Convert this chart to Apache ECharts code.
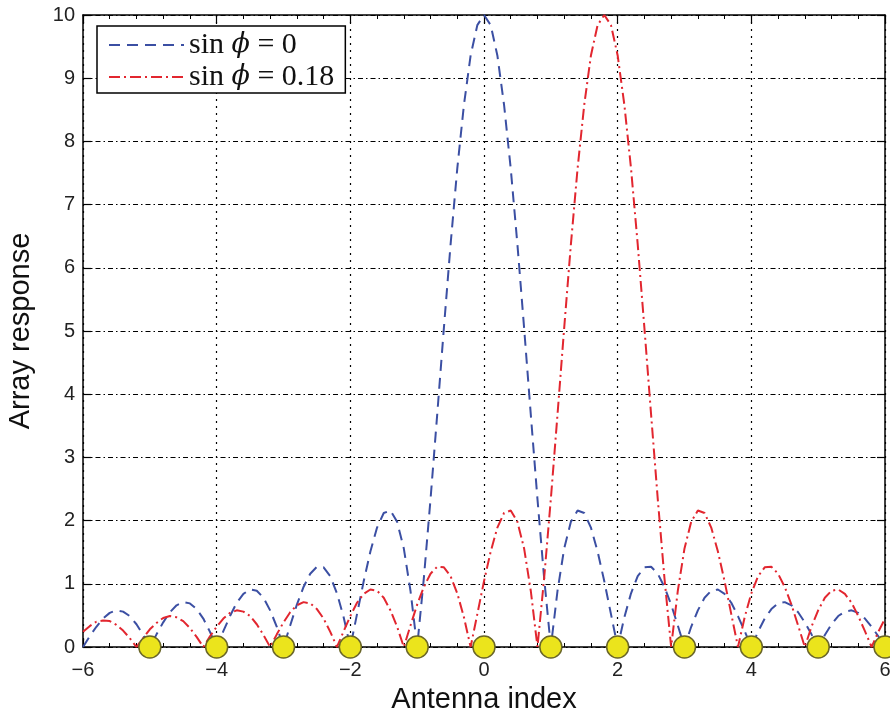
<!DOCTYPE html>
<html>
<head>
<meta charset="utf-8">
<script src="https://cdn.jsdelivr.net/npm/echarts@6/dist/echarts.min.js"></script>
<style>
html,body{margin:0;padding:0;background:#fff;}
#chart{width:890px;height:718px;}
</style>
</head>
<body>
<div id="chart"></div>
<script>
// Sample positions along the antenna-index axis
const antennaIdx = [
  -6,-5.9,-5.8,-5.7,-5.6,-5.5,-5.4,-5.3,-5.2,-5.1,
  -5,-4.9,-4.8,-4.7,-4.6,-4.5,-4.4,-4.3,-4.2,-4.1,
  -4,-3.9,-3.8,-3.7,-3.6,-3.5,-3.4,-3.3,-3.2,-3.1,
  -3,-2.9,-2.8,-2.7,-2.6,-2.5,-2.4,-2.3,-2.2,-2.1,
  -2,-1.9,-1.8,-1.7,-1.6,-1.5,-1.4,-1.3,-1.2,-1.1,
  -1,-0.9,-0.8,-0.7,-0.6,-0.5,-0.4,-0.3,-0.2,-0.1,
  0,0.1,0.2,0.3,0.4,0.5,0.6,0.7,0.8,0.9,
  1,1.1,1.2,1.3,1.4,1.5,1.6,1.7,1.8,1.9,
  2,2.1,2.2,2.3,2.4,2.5,2.6,2.7,2.8,2.9,
  3,3.1,3.2,3.3,3.4,3.5,3.6,3.7,3.8,3.9,
  4,4.1,4.2,4.3,4.4,4.5,4.6,4.7,4.8,4.9,
  5,5.1,5.2,5.3,5.4,5.5,5.6,5.7,5.8,5.9,
  6
];
// Array response, sin(phi) = 0 (blue dashed)
const respSin0 = [
  0,.17,.32,.45,.54,.58,.56,.49,.36,.19,
  0,.20,.39,.55,.66,.71,.69,.60,.45,.24,
  0,.25,.49,.70,.84,.91,.89,.78,.58,.32,
  0,.34,.67,.95,1.16,1.27,1.26,1.12,.85,.47,
  0,.52,1.04,1.51,1.89,2.12,2.16,1.98,1.56,.89,
  0,1.09,2.34,3.68,5.05,6.37,7.57,8.58,9.36,9.84,
  10,9.84,9.36,8.58,7.57,6.37,5.05,3.68,2.34,1.09,
  0,.89,1.56,1.98,2.16,2.12,1.89,1.51,1.04,.52,
  0,.47,.85,1.12,1.26,1.27,1.16,.95,.67,.34,
  0,.32,.58,.78,.89,.91,.84,.70,.49,.25,
  0,.24,.45,.60,.69,.71,.66,.55,.39,.20,
  0,.19,.36,.49,.56,.58,.54,.45,.32,.17,
  0
];
// Array response, sin(phi) = 0.18 (red dash-dot)
const respSin018 = [
  .24,.33,.40,.42,.41,.35,.26,.14,0,.14,
  .28,.38,.46,.49,.47,.41,.30,.16,0,.17,
  .32,.45,.54,.58,.56,.49,.36,.19,0,.20,
  .39,.55,.66,.71,.69,.60,.45,.24,0,.25,
  .49,.70,.84,.91,.89,.78,.58,.32,0,.34,
  .67,.95,1.16,1.27,1.26,1.12,.85,.47,0,.52,
  1.04,1.51,1.89,2.12,2.16,1.98,1.56,.89,0,1.09,
  2.34,3.68,5.05,6.37,7.57,8.58,9.36,9.84,10,9.84,
  9.36,8.58,7.57,6.37,5.05,3.68,2.34,1.09,0,.89,
  1.56,1.98,2.16,2.12,1.89,1.51,1.04,.52,0,.47,
  .85,1.12,1.26,1.27,1.16,.95,.67,.34,0,.32,
  .58,.78,.89,.91,.84,.70,.49,.25,0,.24,
  .45
];
// Antenna positions (yellow markers on the axis)
const antennaPos = [-5,-4,-3,-2,-1,0,1,2,3,4,5,6];
const antennaLevel = [0,0,0,0,0,0,0,0,0,0,0,0];

const seriesNames = ['sin ϕ = 0', 'sin ϕ = 0.18'];
const legendLabels = ['{r|sin }{i|ϕ}{r| = 0}', '{r|sin }{i|ϕ}{r| = 0.18}'];

const chart = echarts.init(document.getElementById('chart'), null, {renderer:'canvas'});

const frameLine = {show:true, onZero:false, lineStyle:{color:'#000', width:1.5}};
const tickStyle = {show:true, inside:true, length:8, lineStyle:{color:'#000', width:1.2}};
const minorStyle = {show:true, splitNumber:5, length:4, lineStyle:{color:'#000', width:1}};
const minusFmt = v => v < 0 ? '\u2212' + Math.abs(v) : String(v);
const labelFont = {fontSize:20, color:'#222', fontFamily:'Liberation Sans'};

chart.setOption({
  animation:false,
  backgroundColor:'#fff',
  grid:{left:83, right:5, top:15, bottom:71, containLabel:false, outerBoundsMode:'none'},
  legend:{
    data:seriesNames,
    orient:'vertical',
    left:97, top:26,
    padding:[4,11,1,11],
    itemWidth:75, itemHeight:14, itemGap:2,
    borderColor:'#000', borderWidth:1.5,
    backgroundColor:'#fff',
    selectedMode:false,
    itemStyle:{opacity:0},
    formatter: name => legendLabels[seriesNames.indexOf(name)],
    textStyle:{
      fontFamily:'Liberation Serif', fontSize:30, color:'#111',
      rich:{
        r:{fontFamily:'Liberation Serif', fontSize:30, color:'#111'},
        i:{fontFamily:'DejaVu Serif', fontStyle:'italic', fontSize:27, color:'#111'}
      }
    },
    z:10
  },
  xAxis:[
    {
      type:'value', min:-6, max:6, interval:2, position:'bottom',
      axisLine:frameLine, axisTick:tickStyle, minorTick:minorStyle,
      axisLabel:Object.assign({margin:13, formatter:minusFmt}, labelFont),
      splitLine:{show:true, lineStyle:{color:'#000', width:1.2, type:[2,5]}},
      name:'Antenna index', nameLocation:'middle', nameGap:38,
      nameTextStyle:{fontSize:29, color:'#111', fontFamily:'Liberation Sans'}
    },
    {
      type:'value', min:-6, max:6, interval:2, position:'top',
      axisLine:frameLine, axisTick:tickStyle, minorTick:minorStyle,
      axisLabel:{show:false}, splitLine:{show:false}
    }
  ],
  yAxis:[
    {
      type:'value', min:0, max:10, interval:1, position:'left',
      axisLine:frameLine, axisTick:tickStyle,
      axisLabel:Object.assign({margin:8}, labelFont),
      splitLine:{show:true, lineStyle:{color:'#000', width:1.2, type:[5,3,1.5,3]}},
      name:'Array response', nameLocation:'middle', nameGap:48,
      nameTextStyle:{fontSize:29, color:'#111', fontFamily:'Liberation Sans'}
    },
    {
      type:'value', min:0, max:10, interval:1, position:'right',
      axisLine:frameLine, axisTick:tickStyle,
      axisLabel:{show:false}, splitLine:{show:false}
    }
  ],
  series:[
    {
      name:seriesNames[0], type:'line',
      data:antennaIdx.map((x,i)=>[x, respSin0[i]]),
      symbol:'none', showSymbol:false, smooth:false,
      lineStyle:{color:'#3b4fa3', width:2, type:[11,7]},
      itemStyle:{color:'#3b4fa3'},
      z:3
    },
    {
      name:seriesNames[1], type:'line',
      data:antennaIdx.map((x,i)=>[x, respSin018[i]]),
      symbol:'none', showSymbol:false, smooth:false,
      lineStyle:{color:'#e2262f', width:2, type:[11,4,2,4]},
      itemStyle:{color:'#e2262f'},
      z:3
    },
    {
      name:'antennas', type:'scatter',
      data:antennaPos.map((x,i)=>[x, antennaLevel[i]]),
      symbol:'circle', symbolSize:22,
      itemStyle:{color:'#ebe41c', borderColor:'#6a6628', borderWidth:1.5, opacity:1},
      clip:false, silent:true,
      z:6
    }
  ]
});
</script>
</body>
</html>
